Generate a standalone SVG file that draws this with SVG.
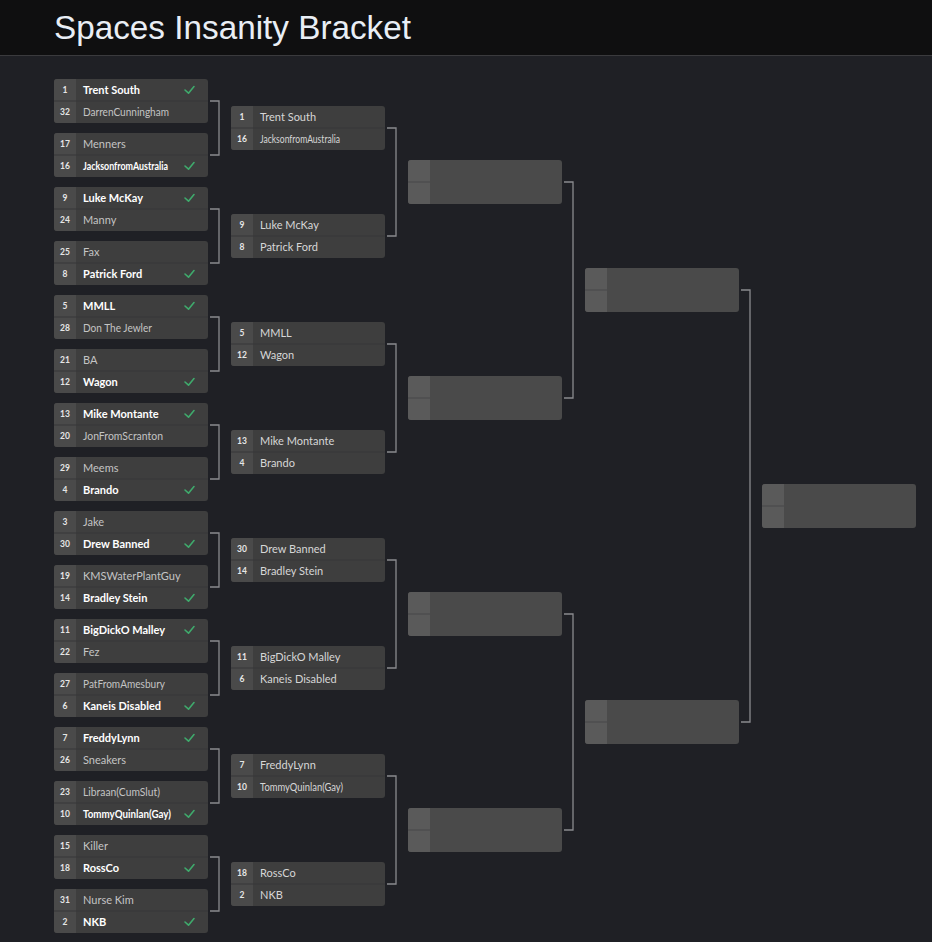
<svg xmlns="http://www.w3.org/2000/svg" width="932" height="942" viewBox="0 0 932 942">
<style>
.bg{fill:#1f2025}
.hdr{fill:#0f0f10}
.title{font-family:"Liberation Sans",Arial,sans-serif;font-size:33.5px;fill:#e9eef5}
.box{fill:#3e3e3e}
.seedcol{fill:#4a4a4a}
.ebox{fill:#4a4a4a}
.eseed{fill:#5a5a5a}
.div{stroke:#363638;stroke-width:1}
.seed{font-family:Lato,"Noto Sans",sans-serif;font-size:8.5px;font-weight:700;fill:#e6e6e6;text-anchor:middle}
.w{font-family:Lato,"Noto Sans",sans-serif;font-size:11px;font-weight:700;fill:#ffffff}
.l{font-family:Lato,"Noto Sans",sans-serif;font-size:11px;fill:#c4c4c4}
.n{font-family:Lato,"Noto Sans",sans-serif;font-size:11px;fill:#d6d6d6}
.chk{fill:none;stroke:#3faa6c;stroke-width:1.6;stroke-linecap:round;stroke-linejoin:round}
.con{fill:none;stroke:#8a8a8e;stroke-width:1.3}
</style>
<defs>
<g id="m">
<rect class="box" x="0" y="0" width="154" height="44" rx="3"/>
<path class="seedcol" d="M3 0H22V44H3A3 3 0 0 1 0 41V3A3 3 0 0 1 3 0Z"/>
<line class="div" x1="0" y1="22" x2="154" y2="22"/>
</g>
<g id="e">
<rect class="ebox" x="0" y="0" width="154" height="44" rx="3"/>
<path class="eseed" d="M3 0H22V44H3A3 3 0 0 1 0 41V3A3 3 0 0 1 3 0Z"/>
<line stroke="#464649" stroke-width="1" x1="0" y1="22" x2="22" y2="22"/>
</g>
<path id="ck" class="chk" d="M0 0L3.5 3.2L9 -3.5"/>
</defs>
<rect class="bg" x="0" y="0" width="932" height="942"/>
<rect class="hdr" x="0" y="0" width="932" height="55"/>
<line x1="0" y1="55.5" x2="932" y2="55.5" stroke="#3a3a3d" stroke-width="1"/>
<text class="title" x="54" y="39" textLength="357" lengthAdjust="spacingAndGlyphs">Spaces Insanity Bracket</text>

<g id="connectors">
<path class="con" d="M210 101H219V155H210"/>
<path class="con" d="M210 209H219V263H210"/>
<path class="con" d="M210 317H219V371H210"/>
<path class="con" d="M210 425H219V479H210"/>
<path class="con" d="M210 533H219V587H210"/>
<path class="con" d="M210 641H219V695H210"/>
<path class="con" d="M210 749H219V803H210"/>
<path class="con" d="M210 857H219V911H210"/>
<path class="con" d="M387 128H396V236H387"/>
<path class="con" d="M387 344H396V452H387"/>
<path class="con" d="M387 560H396V668H387"/>
<path class="con" d="M387 776H396V884H387"/>
<path class="con" d="M564 182H573V398H564"/>
<path class="con" d="M564 614H573V830H564"/>
<path class="con" d="M741 290H750V722H741"/>
</g>

<g id="r1m1" transform="translate(54,79)"><use href="#m"/><text class="seed" x="11" y="14">1</text><text class="w" x="29" y="15">Trent South</text><use href="#ck" x="131" y="11"/><text class="seed" x="11" y="36">32</text><text class="l" x="29" y="37" textLength="86" lengthAdjust="spacingAndGlyphs">DarrenCunningham</text></g>
<g id="r1m2" transform="translate(54,133)"><use href="#m"/><text class="seed" x="11" y="14">17</text><text class="l" x="29" y="15">Menners</text><text class="seed" x="11" y="36">16</text><text class="w" x="29" y="36.5" font-size="10" textLength="85" lengthAdjust="spacingAndGlyphs">JacksonfromAustralia</text><use href="#ck" x="131" y="33"/></g>
<g id="r1m3" transform="translate(54,187)"><use href="#m"/><text class="seed" x="11" y="14">9</text><text class="w" x="29" y="15">Luke McKay</text><use href="#ck" x="131" y="11"/><text class="seed" x="11" y="36">24</text><text class="l" x="29" y="37">Manny</text></g>
<g id="r1m4" transform="translate(54,241)"><use href="#m"/><text class="seed" x="11" y="14">25</text><text class="l" x="29" y="15">Fax</text><text class="seed" x="11" y="36">8</text><text class="w" x="29" y="37">Patrick Ford</text><use href="#ck" x="131" y="33"/></g>
<g id="r1m5" transform="translate(54,295)"><use href="#m"/><text class="seed" x="11" y="14">5</text><text class="w" x="29" y="15">MMLL</text><use href="#ck" x="131" y="11"/><text class="seed" x="11" y="36">28</text><text class="l" x="29" y="37" textLength="69" lengthAdjust="spacingAndGlyphs">Don The Jewler</text></g>
<g id="r1m6" transform="translate(54,349)"><use href="#m"/><text class="seed" x="11" y="14">21</text><text class="l" x="29" y="15">BA</text><text class="seed" x="11" y="36">12</text><text class="w" x="29" y="37">Wagon</text><use href="#ck" x="131" y="33"/></g>
<g id="r1m7" transform="translate(54,403)"><use href="#m"/><text class="seed" x="11" y="14">13</text><text class="w" x="29" y="15">Mike Montante</text><use href="#ck" x="131" y="11"/><text class="seed" x="11" y="36">20</text><text class="l" x="29" y="37" textLength="80" lengthAdjust="spacingAndGlyphs">JonFromScranton</text></g>
<g id="r1m8" transform="translate(54,457)"><use href="#m"/><text class="seed" x="11" y="14">29</text><text class="l" x="29" y="15">Meems</text><text class="seed" x="11" y="36">4</text><text class="w" x="29" y="37">Brando</text><use href="#ck" x="131" y="33"/></g>
<g id="r1m9" transform="translate(54,511)"><use href="#m"/><text class="seed" x="11" y="14">3</text><text class="l" x="29" y="15">Jake</text><text class="seed" x="11" y="36">30</text><text class="w" x="29" y="37">Drew Banned</text><use href="#ck" x="131" y="33"/></g>
<g id="r1m10" transform="translate(54,565)"><use href="#m"/><text class="seed" x="11" y="14">19</text><text class="l" x="29" y="15">KMSWaterPlantGuy</text><text class="seed" x="11" y="36">14</text><text class="w" x="29" y="37">Bradley Stein</text><use href="#ck" x="131" y="33"/></g>
<g id="r1m11" transform="translate(54,619)"><use href="#m"/><text class="seed" x="11" y="14">11</text><text class="w" x="29" y="15">BigDickO Malley</text><use href="#ck" x="131" y="11"/><text class="seed" x="11" y="36">22</text><text class="l" x="29" y="37">Fez</text></g>
<g id="r1m12" transform="translate(54,673)"><use href="#m"/><text class="seed" x="11" y="14">27</text><text class="l" x="29" y="15" textLength="82" lengthAdjust="spacingAndGlyphs">PatFromAmesbury</text><text class="seed" x="11" y="36">6</text><text class="w" x="29" y="37">Kaneis Disabled</text><use href="#ck" x="131" y="33"/></g>
<g id="r1m13" transform="translate(54,727)"><use href="#m"/><text class="seed" x="11" y="14">7</text><text class="w" x="29" y="15">FreddyLynn</text><use href="#ck" x="131" y="11"/><text class="seed" x="11" y="36">26</text><text class="l" x="29" y="37">Sneakers</text></g>
<g id="r1m14" transform="translate(54,781)"><use href="#m"/><text class="seed" x="11" y="14">23</text><text class="l" x="29" y="15" textLength="77" lengthAdjust="spacingAndGlyphs">Libraan(CumSlut)</text><text class="seed" x="11" y="36">10</text><text class="w" x="29" y="37" textLength="88" lengthAdjust="spacingAndGlyphs">TommyQuinlan(Gay)</text><use href="#ck" x="131" y="33"/></g>
<g id="r1m15" transform="translate(54,835)"><use href="#m"/><text class="seed" x="11" y="14">15</text><text class="l" x="29" y="15">Killer</text><text class="seed" x="11" y="36">18</text><text class="w" x="29" y="37">RossCo</text><use href="#ck" x="131" y="33"/></g>
<g id="r1m16" transform="translate(54,889)"><use href="#m"/><text class="seed" x="11" y="14">31</text><text class="l" x="29" y="15">Nurse Kim</text><text class="seed" x="11" y="36">2</text><text class="w" x="29" y="37">NKB</text><use href="#ck" x="131" y="33"/></g>

<g id="r2m1" transform="translate(231,106)"><use href="#m"/><text class="seed" x="11" y="14">1</text><text class="n" x="29" y="15">Trent South</text><text class="seed" x="11" y="36">16</text><text class="n" x="29" y="36.5" font-size="10" textLength="80" lengthAdjust="spacingAndGlyphs">JacksonfromAustralia</text></g>
<g id="r2m2" transform="translate(231,214)"><use href="#m"/><text class="seed" x="11" y="14">9</text><text class="n" x="29" y="15">Luke McKay</text><text class="seed" x="11" y="36">8</text><text class="n" x="29" y="37">Patrick Ford</text></g>
<g id="r2m3" transform="translate(231,322)"><use href="#m"/><text class="seed" x="11" y="14">5</text><text class="n" x="29" y="15">MMLL</text><text class="seed" x="11" y="36">12</text><text class="n" x="29" y="37">Wagon</text></g>
<g id="r2m4" transform="translate(231,430)"><use href="#m"/><text class="seed" x="11" y="14">13</text><text class="n" x="29" y="15">Mike Montante</text><text class="seed" x="11" y="36">4</text><text class="n" x="29" y="37">Brando</text></g>
<g id="r2m5" transform="translate(231,538)"><use href="#m"/><text class="seed" x="11" y="14">30</text><text class="n" x="29" y="15">Drew Banned</text><text class="seed" x="11" y="36">14</text><text class="n" x="29" y="37">Bradley Stein</text></g>
<g id="r2m6" transform="translate(231,646)"><use href="#m"/><text class="seed" x="11" y="14">11</text><text class="n" x="29" y="15">BigDickO Malley</text><text class="seed" x="11" y="36">6</text><text class="n" x="29" y="37">Kaneis Disabled</text></g>
<g id="r2m7" transform="translate(231,754)"><use href="#m"/><text class="seed" x="11" y="14">7</text><text class="n" x="29" y="15">FreddyLynn</text><text class="seed" x="11" y="36">10</text><text class="n" x="29" y="36.5" font-size="10" textLength="83" lengthAdjust="spacingAndGlyphs">TommyQuinlan(Gay)</text></g>
<g id="r2m8" transform="translate(231,862)"><use href="#m"/><text class="seed" x="11" y="14">18</text><text class="n" x="29" y="15">RossCo</text><text class="seed" x="11" y="36">2</text><text class="n" x="29" y="37">NKB</text></g>

<g id="r3m1" transform="translate(408,160)"><use href="#e"/></g>
<g id="r3m2" transform="translate(408,376)"><use href="#e"/></g>
<g id="r3m3" transform="translate(408,592)"><use href="#e"/></g>
<g id="r3m4" transform="translate(408,808)"><use href="#e"/></g>
<g id="r4m1" transform="translate(585,268)"><use href="#e"/></g>
<g id="r4m2" transform="translate(585,700)"><use href="#e"/></g>
<g id="final" transform="translate(762,484)"><use href="#e"/></g>
</svg>
